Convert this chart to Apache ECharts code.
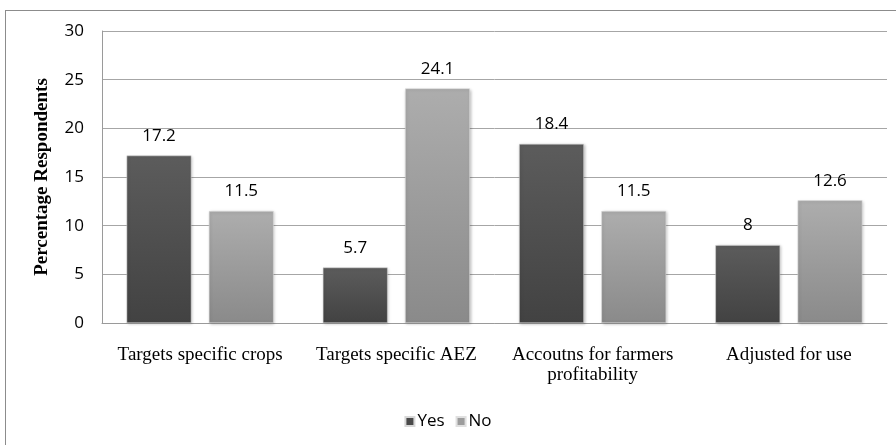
<!DOCTYPE html>
<html><head><meta charset="utf-8">
<script src="https://cdn.jsdelivr.net/npm/echarts@6/dist/echarts.min.js"></script>
<style>html,body{margin:0;padding:0;background:#fff}#c{width:896px;height:445px}
#frame{position:absolute;left:5px;top:10px;width:900px;height:450px;border-left:1px solid #8c8c8c;border-top:1px solid #8c8c8c;pointer-events:none}</style>
</head><body><div id="c"></div><div id="frame"></div>
<script>
var categories = ['Targets specific crops', 'Targets specific AEZ', 'Accoutns for farmers\nprofitability', 'Adjusted for use'];
var yesValues = [17.2, 5.7, 18.4, 8];
var noValues = [11.5, 24.1, 11.5, 12.6];
var yTicks = [0, 5, 10, 15, 20, 25, 30];

var chart = echarts.init(document.getElementById('c'));
function grad(a, b) {
  return new echarts.graphic.LinearGradient(0, 0, 0, 1, [{offset: 0, color: a}, {offset: 1, color: b}]);
}
var labelStyle = {show: true, position: 'top', distance: 11, color: '#000', fontFamily: 'Open Sans', fontSize: 17};
chart.setOption({
  animation: false,
  grid: {left: 102, right: 9, top: 31, bottom: 122},
  legend: {
    bottom: 10, left: 'center', itemWidth: 9, itemHeight: 9, itemGap: 11,
    textStyle: {fontFamily: 'Open Sans', fontSize: 17, color: '#000', padding: [0, 0, 0, -2]},
    data: [{name: 'Yes', icon: 'rect', itemStyle: {color: '#4a4a4a'}}, {name: 'No', icon: 'rect', itemStyle: {color: '#9c9c9c'}}]
  },
  xAxis: {
    type: 'category', data: categories,
    axisLine: {lineStyle: {color: '#9a9a9a'}}, axisTick: {show: false},
    axisLabel: {interval: 0, color: '#000', fontFamily: 'Liberation Serif', fontSize: 19, margin: 22, lineHeight: 20}
  },
  yAxis: {
    type: 'value', min: yTicks[0], max: yTicks[yTicks.length - 1], interval: 5,
    name: 'Percentage Respondents', nameLocation: 'middle', nameGap: 50, nameRotate: 90,
    nameTextStyle: {fontFamily: 'Liberation Serif', fontWeight: 'bold', fontSize: 19, color: '#000'},
    axisLine: {show: true, lineStyle: {color: '#9a9a9a'}}, axisTick: {show: false},
    axisLabel: {color: '#000', fontFamily: 'Open Sans', fontSize: 17, margin: 18},
    splitLine: {lineStyle: {color: '#a6a6a6'}}
  },
  series: [
    {name: 'Yes', type: 'bar', data: yesValues, barWidth: '33%', barGap: '27%',
     itemStyle: {color: grad('#5c5c5c', '#424242'), borderColor: '#d8d8d8', borderWidth: 0.5, shadowColor: 'rgba(0,0,0,0.25)', shadowBlur: 3, shadowOffsetX: 1, shadowOffsetY: 1},
     label: labelStyle},
    {name: 'No', type: 'bar', data: noValues, barWidth: '33%',
     itemStyle: {color: grad('#adadad', '#8a8a8a'), borderColor: '#e0e0e0', borderWidth: 0.5, shadowColor: 'rgba(0,0,0,0.25)', shadowBlur: 3, shadowOffsetX: 1, shadowOffsetY: 1},
     label: labelStyle}
  ]
});
</script></body></html>
